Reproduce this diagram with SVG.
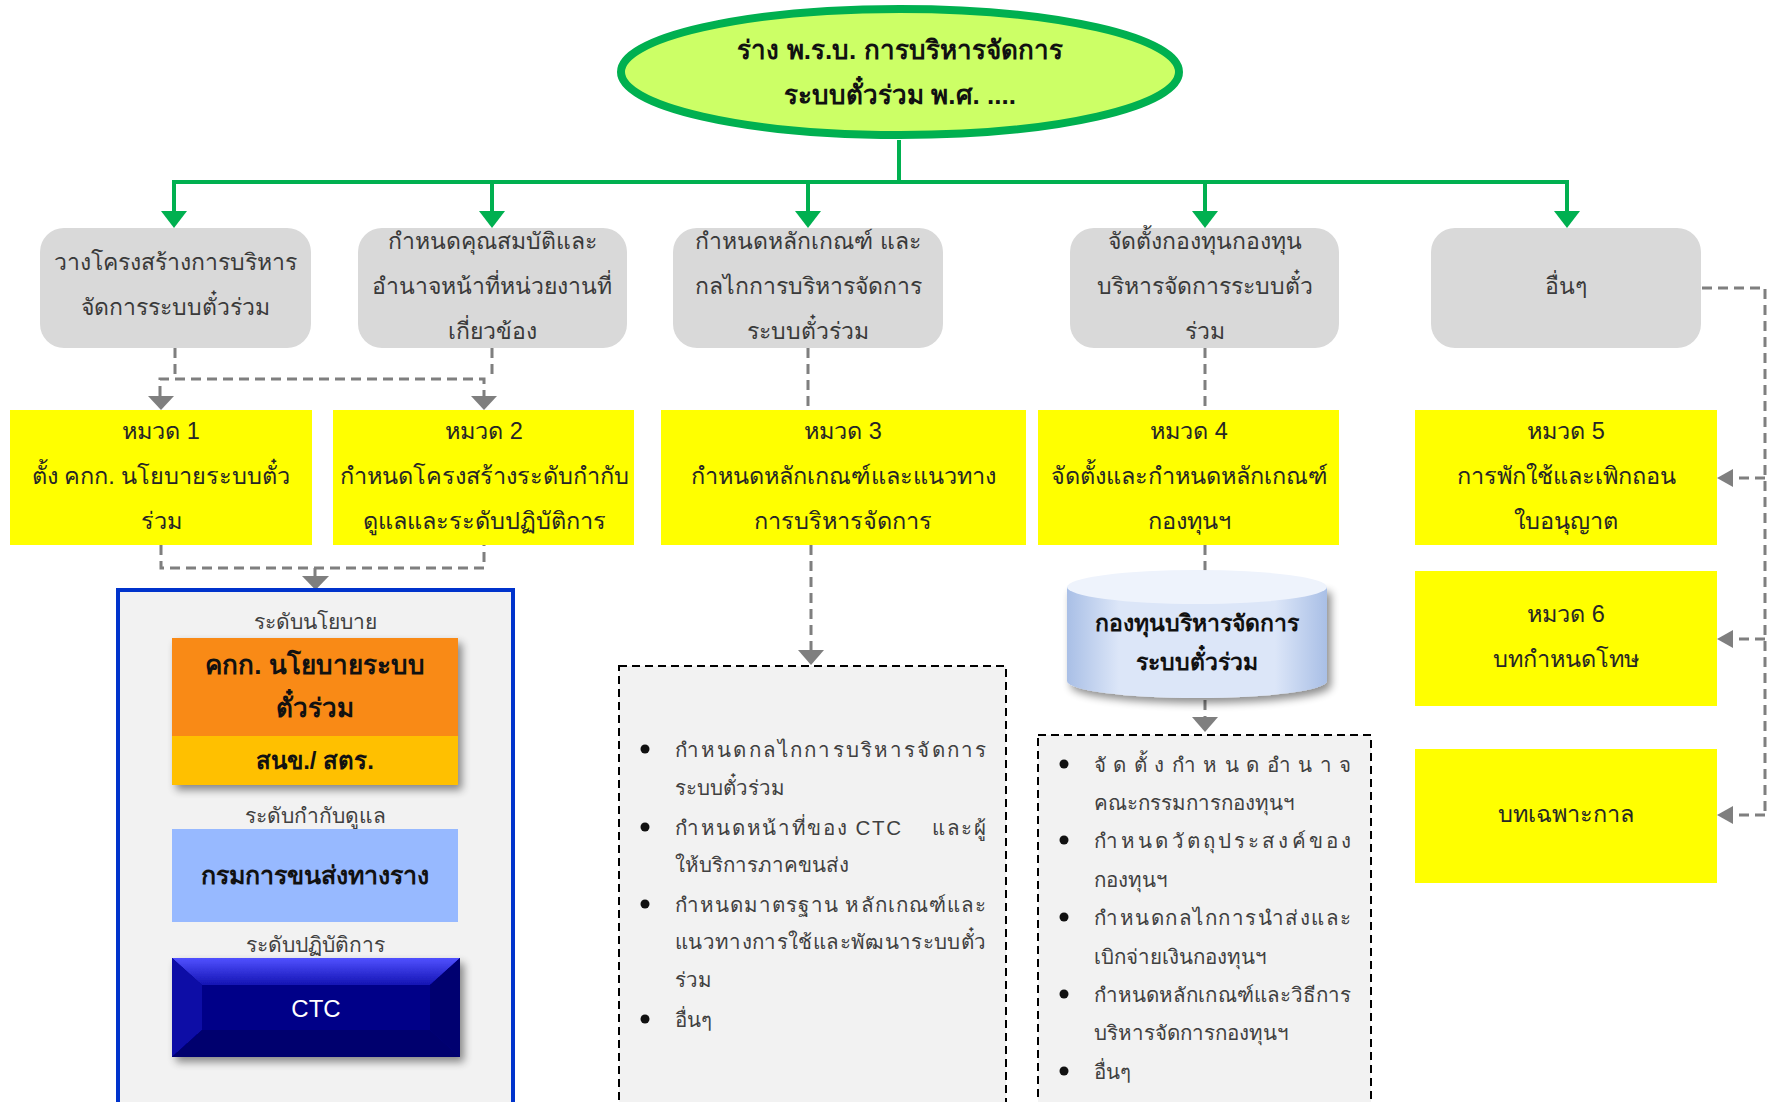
<svg xmlns="http://www.w3.org/2000/svg" width="1771" height="1102" viewBox="0 0 1771 1102">
<defs>
<style>
text{font-family:'Liberation Sans','Noto Sans','DejaVu Sans',sans-serif;text-anchor:middle;dominant-baseline:central}
.g{fill:#D9D9D9}
.gt{font-size:23px;fill:#3a3a3a}
.y{fill:#FFFF00}
.yt{font-size:23.5px;fill:#262626}
.gl{stroke:#00B050;stroke-width:4;fill:none}
.ga{fill:#00B050}
.dl{stroke:#7F7F7F;stroke-width:3;stroke-dasharray:10 6;fill:none}
.da{fill:#7F7F7F}
.bt{font-size:20.5px;fill:#404040;text-anchor:start}
.bu{fill:#111}
.lvl{font-size:21px;fill:#404040}
</style>
<filter id="sh" x="-10%" y="-10%" width="130%" height="140%">
<feGaussianBlur in="SourceAlpha" stdDeviation="4"/>
<feOffset dx="4" dy="5" result="b"/>
<feComponentTransfer><feFuncA type="linear" slope="0.45"/></feComponentTransfer>
<feMerge><feMergeNode/><feMergeNode in="SourceGraphic"/></feMerge>
</filter>
<linearGradient id="cylx" x1="0" y1="0" x2="1" y2="0">
<stop offset="0" stop-color="#A9BFE6"/>
<stop offset="0.2" stop-color="#DCE6F8"/>
<stop offset="0.8" stop-color="#DCE6F8"/>
<stop offset="1" stop-color="#A9BFE6"/>
</linearGradient>
<linearGradient id="ctcTop" x1="0" y1="0" x2="0" y2="1">
<stop offset="0" stop-color="#5050FF"/>
<stop offset="1" stop-color="#1414B4"/>
</linearGradient>
</defs>
<rect width="1771" height="1102" fill="#FFFFFF"/>

<g id="connectors">
<path class="gl" d="M899 140V182M174 211V182H1567V211M492 182V211M808 182V211M1205 182V211"/>
<polygon class="ga" points="161,211 187,211 174,228"/>
<polygon class="ga" points="479,211 505,211 492,228"/>
<polygon class="ga" points="795,211 821,211 808,228"/>
<polygon class="ga" points="1192,211 1218,211 1205,228"/>
<polygon class="ga" points="1554,211 1580,211 1567,228"/>
<path class="dl" d="M175 348V379M492 348V379M160 396V379H484V396"/>
<polygon class="da" points="148,396 174,396 161,410"/>
<polygon class="da" points="471,396 497,396 484,410"/>
<path class="dl" d="M161 545V568H484V545M315 568V576"/>
<polygon class="da" points="302,576 329,576 315.5,590"/>
<path class="dl" d="M808 348V410M811 545V650"/>
<polygon class="da" points="798,650 824,650 811,665"/>
<path class="dl" d="M1205 348V410M1205 545V576M1205 700V717"/>
<polygon class="da" points="1192,717 1218,717 1205,732"/>
<path class="dl" d="M1702 288H1765V815M1765 478H1732M1765 639H1732M1765 815H1732"/>
<polygon class="da" points="1733,469 1733,487 1717,478"/>
<polygon class="da" points="1733,630 1733,648 1717,639"/>
<polygon class="da" points="1733,806 1733,824 1717,815"/>
</g>

<g id="root">
<ellipse cx="900" cy="72" rx="279" ry="63" fill="#CCFF66" stroke="#00B050" stroke-width="8"/>
<text x="900" y="50" style="font-size:26px;font-weight:bold;fill:#111">ร่าง พ.ร.บ. การบริหารจัดการ</text>
<text x="900" y="95" style="font-size:26px;font-weight:bold;fill:#111">ระบบตั๋วร่วม พ.ศ. ....</text>
</g>

<g id="topic1">
<rect class="g" x="40" y="228" width="271" height="120" rx="24"/>
<text class="gt" x="175" y="262">วางโครงสร้างการบริหาร</text>
<text class="gt" x="175" y="307">จัดการระบบตั๋วร่วม</text>
</g>
<g id="topic2">
<rect class="g" x="358" y="228" width="269" height="120" rx="24"/>
<text class="gt" x="492" y="241">กำหนดคุณสมบัติและ</text>
<text class="gt" x="492" y="286">อำนาจหน้าที่หน่วยงานที่</text>
<text class="gt" x="492" y="331">เกี่ยวข้อง</text>
</g>
<g id="topic3">
<rect class="g" x="673" y="228" width="270" height="120" rx="24"/>
<text class="gt" x="808" y="241">กำหนดหลักเกณฑ์ และ</text>
<text class="gt" x="808" y="286">กลไกการบริหารจัดการ</text>
<text class="gt" x="808" y="331">ระบบตั๋วร่วม</text>
</g>
<g id="topic4">
<rect class="g" x="1070" y="228" width="269" height="120" rx="24"/>
<text class="gt" x="1205" y="241">จัดตั้งกองทุนกองทุน</text>
<text class="gt" x="1205" y="286">บริหารจัดการระบบตั๋ว</text>
<text class="gt" x="1205" y="331">ร่วม</text>
</g>
<g id="topic5">
<rect class="g" x="1431" y="228" width="270" height="120" rx="24"/>
<text class="gt" x="1566" y="286">อื่นๆ</text>
</g>

<g id="chapter1">
<rect class="y" x="10" y="410" width="302" height="135"/>
<text class="yt" x="161" y="431">หมวด 1</text>
<text class="yt" x="161" y="476">ตั้ง คกก. นโยบายระบบตั๋ว</text>
<text class="yt" x="161" y="521">ร่วม</text>
</g>
<g id="chapter2">
<rect class="y" x="333" y="410" width="301" height="135"/>
<text class="yt" x="484" y="431">หมวด 2</text>
<text class="yt" x="484" y="476">กำหนดโครงสร้างระดับกำกับ</text>
<text class="yt" x="484" y="521">ดูแลและระดับปฏิบัติการ</text>
</g>
<g id="chapter3">
<rect class="y" x="661" y="410" width="365" height="135"/>
<text class="yt" x="843" y="431">หมวด 3</text>
<text class="yt" x="843" y="476">กำหนดหลักเกณฑ์และแนวทาง</text>
<text class="yt" x="843" y="521">การบริหารจัดการ</text>
</g>
<g id="chapter4">
<rect class="y" x="1038" y="410" width="301" height="135"/>
<text class="yt" x="1189" y="431">หมวด 4</text>
<text class="yt" x="1189" y="476">จัดตั้งและกำหนดหลักเกณฑ์</text>
<text class="yt" x="1189" y="521">กองทุนฯ</text>
</g>
<g id="chapter5">
<rect class="y" x="1415" y="410" width="302" height="135"/>
<text class="yt" x="1566" y="431">หมวด 5</text>
<text class="yt" x="1566" y="476">การพักใช้และเพิกถอน</text>
<text class="yt" x="1566" y="521">ใบอนุญาต</text>
</g>
<g id="chapter6">
<rect class="y" x="1415" y="571" width="302" height="135"/>
<text class="yt" x="1566" y="614">หมวด 6</text>
<text class="yt" x="1566" y="659">บทกำหนดโทษ</text>
</g>
<g id="transitional">
<rect class="y" x="1415" y="749" width="302" height="134"/>
<text class="yt" x="1566" y="814">บทเฉพาะกาล</text>
</g>

<g id="structure">
<rect x="118" y="590" width="395" height="560" fill="#F2F2F2" stroke="#0033CC" stroke-width="4"/>
<text class="lvl" x="315" y="621">ระดับนโยบาย</text>
<g filter="url(#sh)">
<rect x="172" y="638" width="286" height="98" fill="#F98A17"/>
<rect x="172" y="736" width="286" height="49" fill="#FFC000"/>
</g>
<text x="315" y="665" style="font-size:26px;font-weight:bold;fill:#111">คกก. นโยบายระบบ</text>
<text x="315" y="708" style="font-size:26px;font-weight:bold;fill:#111">ตั๋วร่วม</text>
<text x="315" y="760" style="font-size:24px;font-weight:bold;fill:#111">สนข./ สตร.</text>
<text class="lvl" x="315" y="815">ระดับกำกับดูแล</text>
<rect x="172" y="829" width="286" height="93" fill="#97B9FF"/>
<text x="315" y="875" style="font-size:25px;font-weight:bold;fill:#111">กรมการขนส่งทางราง</text>
<text class="lvl" x="315" y="944">ระดับปฏิบัติการ</text>
<g filter="url(#sh)">
<rect x="172" y="958" width="288" height="99" fill="#000088"/>
<polygon points="172,958 460,958 430,985 202,985" fill="url(#ctcTop)"/>
<polygon points="172,958 202,985 202,1030 172,1057" fill="#0A0AA6"/>
<polygon points="460,958 430,985 430,1030 460,1057" fill="#000070"/>
<polygon points="172,1057 202,1030 430,1030 460,1057" fill="#00006E"/>
</g>
<text x="316" y="1008" style="font-size:24px;fill:#FFFFFF">CTC</text>
</g>

<g id="details3">
<rect x="619" y="666" width="387" height="480" fill="#F2F2F2" stroke="#000" stroke-width="2" stroke-dasharray="8 5"/>
<circle class="bu" cx="645" cy="749" r="4.5"/>
<circle class="bu" cx="645" cy="827" r="4.5"/>
<circle class="bu" cx="645" cy="904" r="4.5"/>
<circle class="bu" cx="645" cy="1019" r="4.5"/>
<text class="bt" x="675" y="749" textLength="311" lengthAdjust="spacing">กำหนดกลไกการบริหารจัดการ</text>
<text class="bt" x="675" y="787">ระบบตั๋วร่วม</text>
<text class="bt" x="675" y="827" textLength="311" lengthAdjust="spacing" xml:space="preserve">กำหนดหน้าที่ของ CTC    และผู้</text>
<text class="bt" x="675" y="864">ให้บริการภาคขนส่ง</text>
<text class="bt" x="675" y="904" textLength="311" lengthAdjust="spacing">กำหนดมาตรฐาน หลักเกณฑ์และ</text>
<text class="bt" x="675" y="941" textLength="311" lengthAdjust="spacing">แนวทางการใช้และพัฒนาระบบตั๋ว</text>
<text class="bt" x="675" y="979">ร่วม</text>
<text class="bt" x="675" y="1019">อื่นๆ</text>
</g>

<g id="fund">
<path d="M1067 587V681A130 17 0 0 0 1327 681V587Z" fill="url(#cylx)" filter="url(#sh)"/>
<ellipse cx="1197" cy="587" rx="130" ry="17" fill="#EEF3FC"/>
<text x="1197" y="623" style="font-size:23px;font-weight:bold;fill:#111">กองทุนบริหารจัดการ</text>
<text x="1197" y="662" style="font-size:23px;font-weight:bold;fill:#111">ระบบตั๋วร่วม</text>
</g>

<g id="details4">
<rect x="1038" y="735" width="333" height="420" fill="#F2F2F2" stroke="#000" stroke-width="2" stroke-dasharray="8 5"/>
<circle class="bu" cx="1064" cy="764" r="4.5"/>
<circle class="bu" cx="1064" cy="840" r="4.5"/>
<circle class="bu" cx="1064" cy="917" r="4.5"/>
<circle class="bu" cx="1064" cy="994" r="4.5"/>
<circle class="bu" cx="1064" cy="1071" r="4.5"/>
<text class="bt" x="1094" y="764" textLength="257" lengthAdjust="spacing">จัดตั้งกำหนดอำนาจ</text>
<text class="bt" x="1094" y="802">คณะกรรมการกองทุนฯ</text>
<text class="bt" x="1094" y="840" textLength="257" lengthAdjust="spacing">กำหนดวัตถุประสงค์ของ</text>
<text class="bt" x="1094" y="879">กองทุนฯ</text>
<text class="bt" x="1094" y="917" textLength="257" lengthAdjust="spacing">กำหนดกลไกการนำส่งและ</text>
<text class="bt" x="1094" y="956">เบิกจ่ายเงินกองทุนฯ</text>
<text class="bt" x="1094" y="994" textLength="257" lengthAdjust="spacing">กำหนดหลักเกณฑ์และวิธีการ</text>
<text class="bt" x="1094" y="1032">บริหารจัดการกองทุนฯ</text>
<text class="bt" x="1094" y="1071">อื่นๆ</text>
</g>
</svg>
